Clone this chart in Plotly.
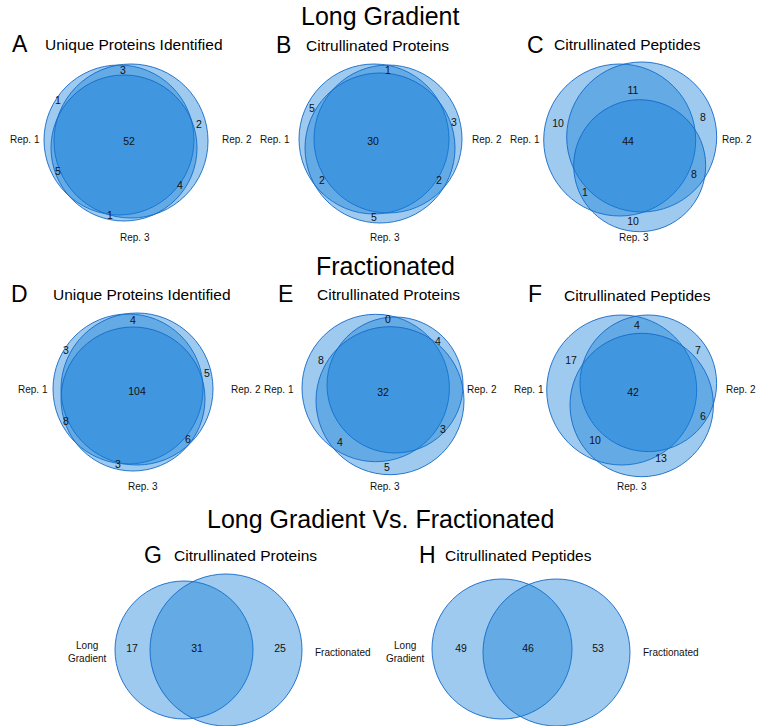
import plotly.graph_objects as go

# ---------------- DATA ----------------
# three-way Venn region counts, order: [only1, only2, only3, 1&2, 1&3, 2&3, 1&2&3]
region_keys = ["o1", "o2", "o3", "a12", "a13", "a23", "a123"]
counts_A = [1, 2, 1, 3, 5, 4, 52]     # Long gradient - unique proteins
counts_B = [5, 3, 5, 1, 2, 2, 30]     # Long gradient - citrullinated proteins
counts_C = [10, 8, 10, 11, 1, 8, 44]  # Long gradient - citrullinated peptides
counts_D = [3, 5, 3, 4, 8, 6, 104]    # Fractionated - unique proteins
counts_E = [8, 4, 5, 0, 4, 3, 32]     # Fractionated - citrullinated proteins
counts_F = [17, 7, 13, 4, 10, 6, 42]  # Fractionated - citrullinated peptides
# two-way Venn counts: [only Long Gradient, both, only Fractionated]
counts_G = [17, 31, 25]
counts_H = [49, 46, 53]

rep_labels = ["Rep. 1", "Rep. 2", "Rep. 3"]
pair_labels = ["Long<br>Gradient", "Fractionated"]
section_titles = ["Long Gradient", "Fractionated", "Long Gradient Vs. Fractionated"]
panel_letters = ["A", "B", "C", "D", "E", "F", "G", "H"]
panel_titles = ["Unique Proteins Identified", "Citrullinated Proteins", "Citrullinated Peptides",
                "Unique Proteins Identified", "Citrullinated Proteins", "Citrullinated Peptides",
                "Citrullinated Proteins", "Citrullinated Peptides"]

# ---------------- LAYOUT GEOMETRY (pixels) ----------------
W, H = 760, 726
FILL = "rgba(12,122,214,0.40)"
EDGE = "rgba(20,105,200,0.9)"
FONT = "Liberation Sans, Arial, sans-serif"

panels3 = [
    dict(counts=counts_A,
         circles=[(119, 140, 75), (131, 141, 77), (124, 148, 73)],
         pos=[(58, 101), (199, 125), (110, 216), (123, 71), (58, 172), (180, 186), (129, 142)],
         reps=[(25, 139), (237, 139), (135, 237)]),
    dict(counts=counts_B,
         circles=[(374, 139, 75), (388, 139, 74), (380, 148, 75)],
         pos=[(312, 109), (454, 123), (374, 218), (388, 71), (322, 181), (439, 181), (373, 142)],
         reps=[(275, 139), (487, 139), (385, 237)]),
    dict(counts=counts_C,
         circles=[(619.7, 140, 76), (641.7, 137, 75), (639.7, 165.7, 66)],
         pos=[(558, 124), (703, 118), (633, 222), (633, 91), (585, 193), (694, 175), (628, 142)],
         reps=[(525, 139), (737, 139), (634, 237)]),
    dict(counts=counts_D,
         circles=[(128, 389, 75), (137, 389, 76), (133, 399, 72)],
         pos=[(66, 351), (207, 374), (118, 465), (133, 321), (66, 422), (188, 440), (137, 392)],
         reps=[(33, 389), (246, 389), (143, 486)]),
    dict(counts=counts_E,
         circles=[(375.7, 388, 73.7), (395, 385, 68), (390, 400.7, 74)],
         pos=[(321, 361), (438, 342), (387, 468), (388, 320), (340, 443), (443, 430), (383, 393)],
         reps=[(279, 389), (482, 389), (385, 486)]),
    dict(counts=counts_F,
         circles=[(621.7, 390, 75), (648.3, 383.3, 68.3), (641.7, 405, 71.7)],
         pos=[(571, 361), (698, 351), (661, 459), (637, 326), (595, 441), (703, 417), (633, 393)],
         reps=[(529, 389), (741, 389), (632, 486)]),
]
panels2 = [
    dict(counts=counts_G,
         circles=[(184, 650, 69), (226, 650, 76)],
         pos=[(132, 649), (197, 649), (280, 649)],
         labels=[(87, 652), (343, 652)]),
    dict(counts=counts_H,
         circles=[(502, 649, 70), (556.5, 652.5, 73.5)],
         pos=[(461, 649), (528, 649), (598, 649)],
         labels=[(405, 652), (671, 652)]),
]
section_pos = [(380, 16), (385, 266), (380, 519)]
letter_pos = [(20, 44), (283, 45), (535, 45), (19, 294), (285, 294), (535, 294), (153, 555), (427, 555)]
ptitle_pos = [(134, 44), (377, 45), (627, 44), (142, 294), (388, 294), (637, 295), (245, 555), (518, 555)]

# ---------------- BUILD ----------------
fig = go.Figure()
shapes = []
annotations = []

def add_circles(circs):
    for (cx, cy, r) in circs:
        shapes.append(dict(type="circle", xref="x", yref="y",
                           x0=cx - r, x1=cx + r, y0=cy - r, y1=cy + r,
                           fillcolor=FILL, line=dict(color=EDGE, width=1), layer="below"))

tx, ty, tt = [], [], []
for p in panels3:
    add_circles(p["circles"])
    for (x, y), c in zip(p["pos"], p["counts"]):
        tx.append(x); ty.append(y); tt.append(str(c))
    for (x, y), lab in zip(p["reps"], rep_labels):
        annotations.append(dict(x=x, y=y, text=lab, showarrow=False, xref="x", yref="y",
                                font=dict(size=10, color="#111", family=FONT)))
for p in panels2:
    add_circles(p["circles"])
    for (x, y), c in zip(p["pos"], p["counts"]):
        tx.append(x); ty.append(y); tt.append(str(c))
    for (x, y), lab in zip(p["labels"], pair_labels):
        annotations.append(dict(x=x, y=y, text=lab, showarrow=False, xref="x", yref="y",
                                font=dict(size=10, color="#111", family=FONT)))

fig.add_trace(go.Scatter(x=tx, y=ty, text=tt, mode="text", hoverinfo="skip",
                         textfont=dict(size=10.5, color="#111", family=FONT), showlegend=False))

for (x, y), t in zip(section_pos, section_titles):
    annotations.append(dict(x=x, y=y, text=t, showarrow=False, xref="x", yref="y",
                            font=dict(size=25, color="#000", family=FONT)))
for (x, y), t in zip(letter_pos, panel_letters):
    annotations.append(dict(x=x, y=y, text=t, showarrow=False, xref="x", yref="y",
                            font=dict(size=23, color="#000", family=FONT)))
for (x, y), t in zip(ptitle_pos, panel_titles):
    annotations.append(dict(x=x, y=y, text=t, showarrow=False, xref="x", yref="y",
                            font=dict(size=15.5, color="#000", family=FONT)))

fig.update_layout(
    width=W, height=H, margin=dict(l=0, r=0, t=0, b=0),
    paper_bgcolor="white", plot_bgcolor="white",
    xaxis=dict(range=[0, W], visible=False, fixedrange=True),
    yaxis=dict(range=[H, 0], visible=False, fixedrange=True),
    shapes=shapes, annotations=annotations, showlegend=False,
)

fig.write_html("out.html", config={"displayModeBar": False},
               post_script="document.body.style.margin='0';document.body.style.overflow='hidden';")
